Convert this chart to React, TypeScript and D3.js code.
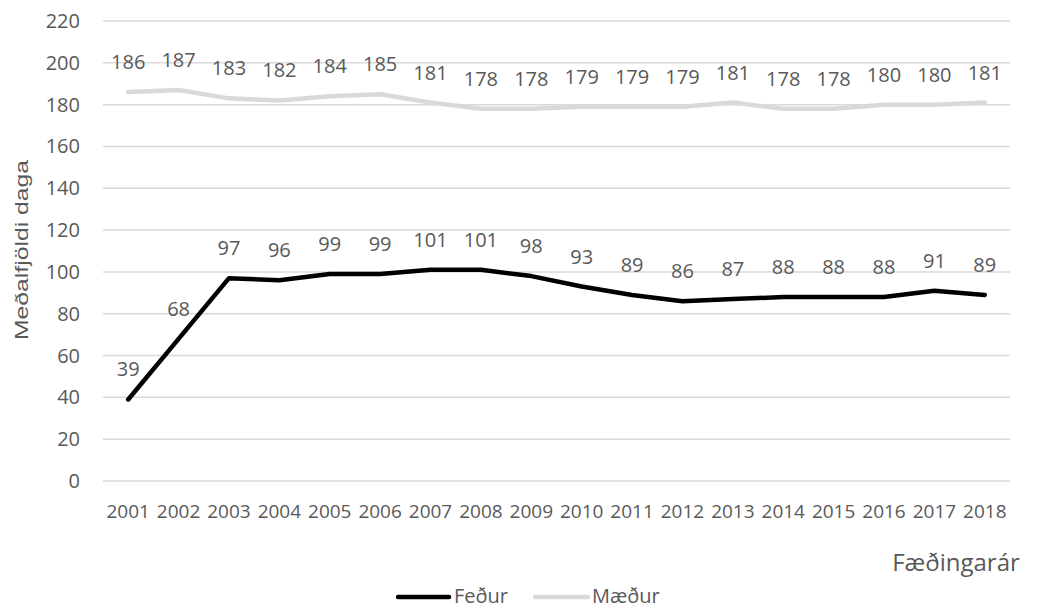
import React from "react";
import * as d3 from "d3";

const years = ["2001","2002","2003","2004","2005","2006","2007","2008","2009","2010","2011","2012","2013","2014","2015","2016","2017","2018"];
const fedur = [39,68,97,96,99,99,101,101,98,93,89,86,87,88,88,88,91,89];
const maedur = [186,187,183,182,184,185,181,178,178,179,179,179,181,178,178,180,180,181];
const yTicks = [0,20,40,60,80,100,120,140,160,180,200,220];

const W = 1047;
const H = 610;
const margin = { top: 21, right: 37, bottom: 131, left: 103 };
const font = "'Open Sans', 'Noto Sans', sans-serif";
const textColor = "#595959";

export default function App() {
  const x = d3.scaleBand().domain(years).range([margin.left, W - margin.right]);
  const y = d3.scaleLinear().domain([0, 220]).range([H - margin.bottom + 2, margin.top]);
  const cx = (d: string) => (x(d) as number) + x.bandwidth() / 2;

  const line = d3.line<number>().x((_, i) => cx(years[i])).y((v) => y(v));

  const series = [
    { name: "Feður", values: fedur, color: "#000000" },
    { name: "Mæður", values: maedur, color: "#d9d9d9" },
  ];

  return (
    <svg width={W} height={H} style={{ position: "absolute", left: 0, top: 0 }} fontFamily={font}>
      <rect width={W} height={H} fill="#fff" />
      {/* grid + y ticks */}
      {yTicks.map((t) => (
        <g key={t}>
          <line x1={margin.left} x2={W - margin.right} y1={y(t)} y2={y(t)} stroke="#d9d9d9" strokeWidth={1.5} />
          <text x={80} y={y(t)} dy="0.35em" textAnchor="end" fontSize={20} fill={textColor}>{t}</text>
        </g>
      ))}
      {/* x labels */}
      {years.map((yr) => (
        <text key={yr} x={cx(yr)} y={511} dy="0.35em" textAnchor="middle" fontSize={19} fill={textColor}>{yr}</text>
      ))}
      {/* lines */}
      {series.map((s) => (
        <path key={s.name} d={line(s.values) || ""} fill="none" stroke={s.color} strokeWidth={4.5} strokeLinejoin="round" strokeLinecap="round" />
      ))}
      {/* value labels */}
      {series.map((s) =>
        s.values.map((v, i) => (
          <text key={s.name + i} x={cx(years[i])} y={y(v) - 30} dy="0.35em" textAnchor="middle" fontSize={20} fill={textColor}>{v}</text>
        ))
      )}
      {/* axis titles */}
      <text transform="translate(28,250) rotate(-90)" textAnchor="middle" fontFamily="'Liberation Sans', Arial, sans-serif" fontSize={18} textLength={180} lengthAdjust="spacingAndGlyphs" fill={textColor}>Meðalfjöldi daga</text>
      <text x={956} y={563} dy="0.35em" textAnchor="middle" fontSize={24} fill={textColor}>Fæðingarár</text>
      {/* legend */}
      <line x1={398} x2={449} y1={597} y2={597} stroke="#000" strokeWidth={4.5} strokeLinecap="round" />
      <text x={454} y={596} dy="0.35em" fontSize={20} fill={textColor}>Feður</text>
      <line x1={535} x2={588} y1={597} y2={597} stroke="#d9d9d9" strokeWidth={4.5} strokeLinecap="round" />
      <text x={592} y={596} dy="0.35em" fontSize={20} fill={textColor}>Mæður</text>
    </svg>
  );
}
